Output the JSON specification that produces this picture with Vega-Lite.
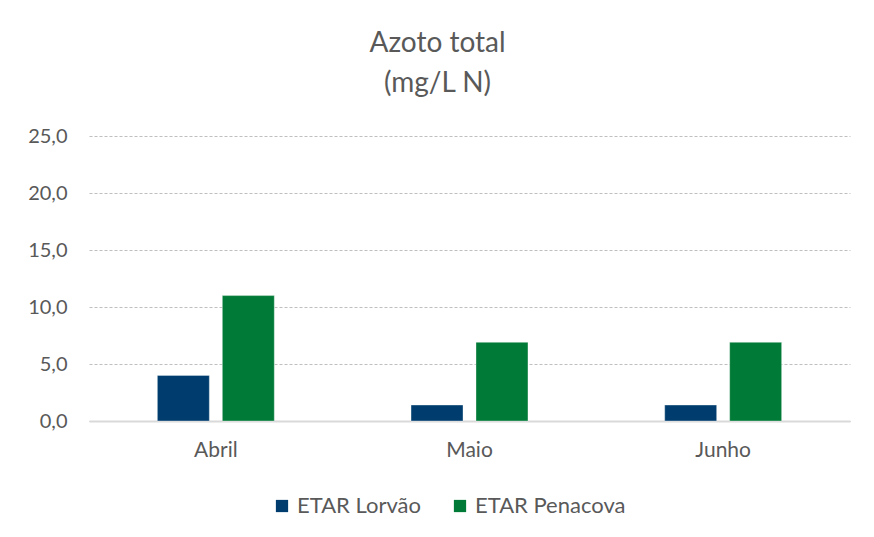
{
  "$schema": "https://vega.github.io/schema/vega-lite/v6.json",
  "width": 761,
  "height": 285,
  "autosize": {"type": "none"},
  "padding": {"left": 89, "top": 136, "right": 24, "bottom": 116},
  "background": "white",
  "title": {
    "text": ["Azoto total", "(mg/L N)"],
    "font": "Lato",
    "fontSize": 28,
    "fontWeight": "normal",
    "color": "#595959",
    "lineHeight": 40,
    "anchor": "middle",
    "dx": -32,
    "offset": 28
  },
  "data": {
    "values": [
      {"mes": "Abril", "etar": "ETAR Lorvão", "valor": 4.0},
      {"mes": "Abril", "etar": "ETAR Penacova", "valor": 11.0},
      {"mes": "Maio", "etar": "ETAR Lorvão", "valor": 1.4},
      {"mes": "Maio", "etar": "ETAR Penacova", "valor": 6.9},
      {"mes": "Junho", "etar": "ETAR Lorvão", "valor": 1.4},
      {"mes": "Junho", "etar": "ETAR Penacova", "valor": 6.9}
    ]
  },
  "mark": {"type": "bar", "stroke": "white", "strokeOpacity": 0.35, "strokeWidth": 1},
  "encoding": {
    "x": {
      "field": "mes",
      "type": "nominal",
      "sort": ["Abril", "Maio", "Junho"],
      "scale": {"paddingInner": 0.539, "paddingOuter": 0.2695},
      "axis": {
        "title": null,
        "labelAngle": 0,
        "labelFont": "Lato",
        "labelFontSize": 21,
        "labelColor": "#595959",
        "labelPadding": 18,
        "ticks": false,
        "domainColor": "#d9d9d9",
        "domainWidth": 2,
        "grid": false
      }
    },
    "xOffset": {
      "field": "etar",
      "type": "nominal",
      "scale": {"paddingInner": 0.2, "paddingOuter": 0}
    },
    "y": {
      "field": "valor",
      "type": "quantitative",
      "scale": {"domain": [0, 25], "nice": false},
      "axis": {
        "title": null,
        "values": [0, 5, 10, 15, 20, 25],
        "labelExpr": "replace(format(datum.value, '.1f'), '.', ',')",
        "labelFont": "Lato",
        "labelFontSize": 20,
        "labelColor": "#595959",
        "labelPadding": 22,
        "ticks": false,
        "domain": false,
        "grid": true,
        "gridColor": "#bfbfbf",
        "gridDash": [3, 2],
        "gridWidth": 1
      }
    },
    "color": {
      "field": "etar",
      "type": "nominal",
      "scale": {"domain": ["ETAR Lorvão", "ETAR Penacova"], "range": ["#003D6E", "#007A37"]},
      "legend": {
        "title": null,
        "orient": "none",
        "legendX": 182,
        "legendY": 359,
        "direction": "horizontal",
        "symbolType": "square",
        "symbolSize": 150,
        "symbolStrokeWidth": 0,
        "labelFont": "Lato",
        "labelFontSize": 22,
        "labelColor": "#595959",
        "labelOffset": 4,
        "columnPadding": 28
      }
    }
  },
  "config": {
    "view": {"stroke": null}
  }
}
